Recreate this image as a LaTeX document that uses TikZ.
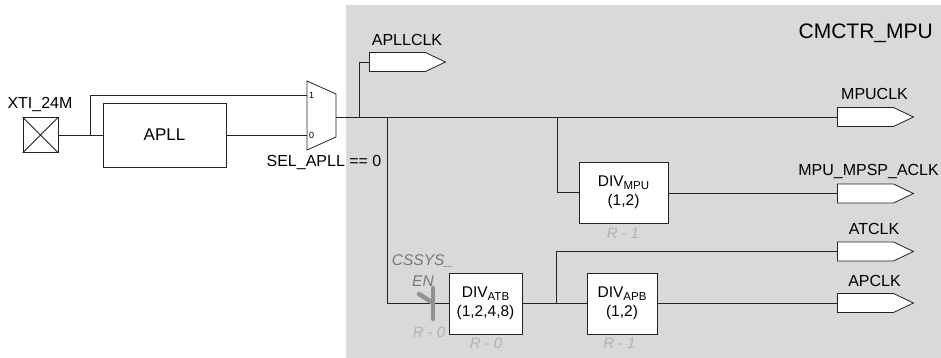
\documentclass[tikz,border=0pt]{standalone}
\usepackage{fontspec}
\setmainfont{Liberation Sans}
\usetikzlibrary{shapes.symbols}
\definecolor{bggray}{RGB}{217,217,217}
\definecolor{wire}{RGB}{35,35,35}
\definecolor{rlabel}{RGB}{178,178,178}
\definecolor{gatecol}{RGB}{145,145,145}
\definecolor{cslabel}{RGB}{120,120,120}
\newcommand{\subtxt}[1]{\raisebox{-0.25ex}{\fontsize{11.5}{12}\selectfont #1}}
\tikzset{
  wireline/.style={draw=wire, line width=0.8pt},
  blockbox/.style={draw=wire, line width=0.8pt, fill=white, inner sep=0pt, align=center,
     font=\fontsize{15.5}{18.5}\selectfont},
  tagbox/.style={shape=signal, signal to=east, signal pointer angle=51, draw=wire, line width=0.8pt,
     fill=white, minimum width=76pt, minimum height=19pt, inner sep=0pt, anchor=west},
  lbl/.style={font=\fontsize{16}{18}\selectfont, inner sep=0pt},
  rlbl/.style={font=\fontsize{15}{17}\selectfont\itshape, text=rlabel, inner sep=0pt},
  cslbl/.style={font=\fontsize{15.5}{17}\selectfont\itshape, text=cslabel, inner sep=0pt},
  muxlbl/.style={font=\fontsize{9}{10}\selectfont, inner sep=0pt},
  gateline/.style={draw=gatecol, line width=4.5pt, line cap=round}
}
\begin{document}
\begin{tikzpicture}[x=1pt,y=-1pt]
\useasboundingbox (0,0) rectangle (941,358);
% background region
\fill[bggray] (346,5) rectangle (941,358);
\node[font=\fontsize{21}{24}\selectfont, anchor=east, inner sep=0pt] (title) at (933,33) {CMCTR\_MPU};

% input pad
\node[draw=wire, line width=0.8pt, minimum width=35pt, minimum height=35pt, inner sep=0pt] (xti) at (40.5,135) {};
\draw[wireline] (xti.north west) -- (xti.south east) (xti.north east) -- (xti.south west);
\node[lbl] (xtil) at (40,105) {XTI\_24M};

% APLL
\node[blockbox, minimum width=123pt, minimum height=64pt, font=\fontsize{17}{19}\selectfont] (apll) at (164.5,135) {APLL};

% mux
\draw[wireline, fill=white] (307,81) -- (336,94) -- (336,137) -- (307,150) -- cycle;
\coordinate (in1) at (307,95);
\coordinate (in0) at (307,135);
\coordinate (muxout) at (336,117);
\node[muxlbl, anchor=west] (m1) at (309,95) {1};
\node[muxlbl, anchor=west] (m0) at (309,135) {0};
\node[lbl] (sel) at (324,163) {SEL\_APLL == 0};

\coordinate (br1) at (90,135);
\draw[wireline] (xti.east) -- (apll.west);
\draw[wireline] (br1) |- (in1);
\draw[wireline] (apll.east) -- (in0);

% output tags
\node[tagbox] (apllclk) at (369,62) {};
\node[lbl] (apllclkl) at (407,40) {APLLCLK};
\node[tagbox] (mpuclk) at (837,117) {};
\node[lbl] (mpuclkl) at (874.5,94) {MPUCLK};
\node[tagbox] (mpsp) at (837,193.5) {};
\node[lbl, anchor=east] (mpspl) at (939,172) {MPU\_MPSP\_ACLK};
\node[tagbox] (atclk) at (837,251.5) {};
\node[lbl] (atclkl) at (874,228.5) {ATCLK};
\node[tagbox] (apclk) at (837,303) {};
\node[lbl] (apclkl) at (874.5,280.5) {APCLK};

% dividers
\node[blockbox, minimum width=89pt, minimum height=61pt] (divmpu) at (623.5,192.5) {DIV\subtxt{MPU}\\(1,2)};
\node[rlbl] (rmpu) at (623,233) {R - 1};
\node[blockbox, minimum width=73pt, minimum height=61pt] (divatb) at (485.5,303.5) {DIV\subtxt{ATB}\\(1,2,4,8)};
\node[rlbl] (ratb) at (486,343) {R - 0};
\node[blockbox, minimum width=70pt, minimum height=61pt] (divapb) at (622,303.5) {DIV\subtxt{APB}\\(1,2)};
\node[rlbl] (rapb) at (619.5,343) {R - 1};

% bus wiring
\coordinate (bapll) at (359,117);
\coordinate (batb) at (387,117);
\coordinate (bmpu) at (557,117);
\coordinate (batclk) at (556,303);
\draw[wireline] (muxout) -- (mpuclk.west);
\draw[wireline] (bapll) |- (apllclk.west);
\draw[wireline] (batb) |- (divatb.west |- 0,303);
\draw[wireline] (bmpu) |- (divmpu.west |- 0,192.5);
\draw[wireline] (divmpu.east |- 0,193.5) -- (mpsp.west);
\draw[wireline] (divatb.east |- 0,303) -- (divapb.west |- 0,303);
\draw[wireline] (batclk) |- (atclk.west);
\draw[wireline] (divapb.east |- 0,303) -- (apclk.west);

% clock gate
\coordinate (gtop) at (433,288);
\coordinate (gbot) at (433,319);
\coordinate (gdiag) at (419,294);
\coordinate (gmid) at (433,303);
\draw[gateline] (gtop) -- (gbot);
\draw[gateline] (gdiag) -- (gmid);
\node[cslbl] (cs1) at (422.5,261) {CSSYS\_};
\node[cslbl] (cs2) at (423,281) {EN};
\node[rlbl] (rgate) at (429,332) {R - 0};
\end{tikzpicture}
\end{document}
